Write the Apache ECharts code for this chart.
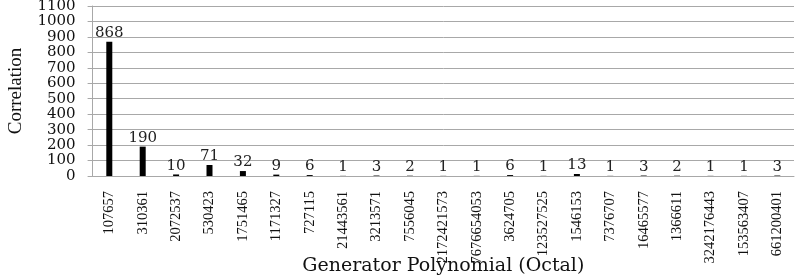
<!DOCTYPE html>
<html>
<head>
<meta charset="utf-8">
<script src="https://cdn.jsdelivr.net/npm/echarts@6/dist/echarts.min.js"></script>
<style>
html,body{margin:0;padding:0;background:#fff;}
#chart{width:797px;height:277px;}
</style>
</head>
<body>
<div id="chart"></div>
<script>
var categories = ["107657","310361","2072537","530423","1751465","1171327","727115","21443561","3213571","7556045","2172421573","7676654053","3624705","123527525","1546153","7376707","16465577","1366611","3242176443","153563407","661200401"];
var correlation = [868,190,10,71,32,9,6,1,3,2,1,1,6,1,13,1,3,2,1,1,3];
var yMin = 0, yMax = 1100, yStep = 100;

var chart = echarts.init(document.getElementById('chart'));
chart.setOption({
  animation: false,
  backgroundColor: '#ffffff',
  grid: { left: 92.6, right: 3, top: 6, bottom: 101, containLabel: false, outerBoundsMode: 'none' },
  xAxis: {
    type: 'category',
    data: categories,
    name: 'Generator Polynomial (Octal)',
    nameLocation: 'middle',
    nameGap: 81,
    nameMoveOverlap: false,
    nameTextStyle: { fontFamily: 'DejaVu Serif', fontSize: 19, color: '#111' },
    axisLine: { show: true, lineStyle: { color: '#a8a8a8', width: 1 } },
    axisTick: { show: false },
    axisLabel: {
      interval: 0,
      rotate: 90,
      margin: 15,
      hideOverlap: false,
      fontFamily: 'Liberation Serif',
      fontSize: 14.5,
      color: '#111'
    }
  },
  yAxis: {
    type: 'value',
    min: yMin, max: yMax, interval: yStep,
    name: 'Correlation',
    nameLocation: 'middle',
    nameGap: 67,
    nameMoveOverlap: false,
    nameTextStyle: { fontFamily: 'Liberation Serif', fontSize: 19, color: '#111' },
    axisLine: { show: true, lineStyle: { color: '#a8a8a8', width: 1 } },
    axisTick: { show: true, length: 5, lineStyle: { color: '#a8a8a8' } },
    splitLine: { show: true, lineStyle: { color: '#a8a8a8', width: 1 } },
    axisLabel: {
      margin: 17,
      hideOverlap: false,
      showMinLabel: true,
      showMaxLabel: true,
      formatter: function (v) { return String(v); },
      fontFamily: 'DejaVu Serif',
      fontSize: 15,
      color: '#111'
    }
  },
  series: [{
    type: 'bar',
    data: correlation,
    barWidth: 6,
    itemStyle: { color: '#000000' },
    label: {
      show: true,
      position: 'top',
      distance: 1,
      fontFamily: 'DejaVu Serif',
      fontSize: 15,
      color: '#222'
    }
  }]
});
</script>
</body>
</html>
